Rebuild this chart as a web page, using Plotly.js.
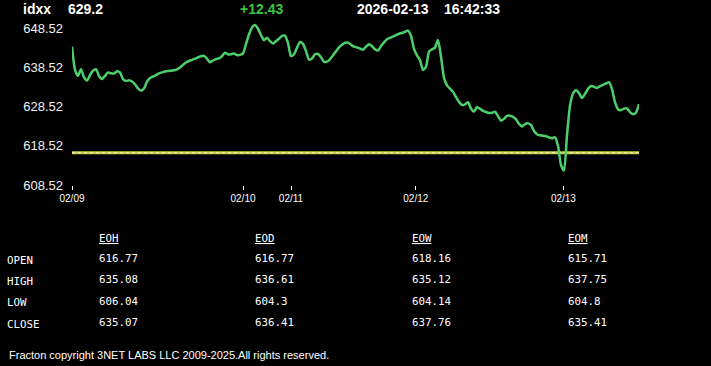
<!DOCTYPE html>
<html><head><meta charset="utf-8">
<script src="https://cdn.plot.ly/plotly-3.0.1.min.js"></script>
<style>html,body{margin:0;padding:0;background:#000;overflow:hidden}#chart{width:711px;height:366px}</style>
</head><body><div id="chart"></div>
<script>
// ---- header ----
const symbol = 'idxx';
const lastPrice = '629.2';
const changeText = '+12.43';
const dateText = '2026-02-13';
const timeText = '16:42:33';

// ---- price series (one sample per step) ----
const prices = [
643.83,637.93,636.40,638.06,636.02,635.20,636.53,637.70,638.06,636.35,
635.58,636.37,637.24,637.04,636.96,637.55,637.24,635.56,635.10,635.25,
634.94,634.23,633.16,632.59,633.16,634.89,635.81,636.22,636.58,636.99,
637.27,637.47,637.60,637.70,637.80,638.06,638.54,639.18,639.79,640.18,
640.46,640.76,641.10,641.40,641.48,640.76,639.85,640.30,640.66,640.82,
641.43,642.30,641.86,641.91,642.07,641.68,641.73,642.12,644.49,646.94,
648.73,649.37,648.40,646.79,645.49,646.13,645.23,644.64,645.26,645.87,
646.56,646.66,644.77,641.40,641.91,643.55,645.03,644.54,642.70,640.53,
640.82,641.89,641.96,641.15,639.97,640.00,640.61,641.63,642.63,643.67,
644.34,644.82,644.87,644.34,643.83,643.65,643.34,643.06,643.83,644.47,
643.96,643.19,642.83,643.98,644.93,645.74,646.07,646.41,646.79,647.12,
647.33,647.61,647.94,646.59,643.29,641.63,640.38,637.88,638.72,642.55,
643.16,643.60,645.54,641.27,635.86,633.97,633.11,632.29,630.96,629.74,
628.94,629.12,629.63,628.05,627.26,628.41,627.97,627.44,627.16,626.90,
626.98,627.23,626.08,624.94,625.40,626.16,626.21,625.93,625.32,624.12,
623.46,624.09,624.25,623.84,622.31,621.49,621.21,621.11,620.95,620.67,
620.47,620.70,618.53,613.63,612.22,621.26,628.74,631.88,632.70,631.98,
630.73,631.78,633.11,633.79,633.62,633.26,633.74,634.10,634.43,634.76,
633.00,629.66,627.85,627.62,628.02,628.10,627.11,626.57,627.00,629.20
];
const tickPositions = [0, 57, 73, 114.6, 163.8];
const tickLabels = ['02/09', '02/10', '02/11', '02/12', '02/13'];
const yTickValues = [608.52, 618.52, 628.52, 638.52, 648.52];

// ---- table ----
const colLabels = ['EOH', 'EOD', 'EOW', 'EOM'];
const rowLabels = ['OPEN', 'HIGH', 'LOW', 'CLOSE'];
const openVals  = [616.77, 616.77, 618.16, 615.71];
const highVals  = [635.08, 636.61, 635.12, 637.75];
const lowVals   = [606.04, 604.3, 604.14, 604.8];
const closeVals = [635.07, 636.41, 637.76, 635.41];
const footerText = 'Fracton copyright 3NET LABS LLC 2009-2025.All rights reserved.';

const refLevel = openVals[1];
const idx = prices.map((_, i) => i);
const lastIdx = prices.length - 1;

// page pixel -> paper coords (plot area: x 72..639, y 20..185)
const W = 711, H = 366, L = 72, R = 72, T = 20, B = 181;
const pw = W - L - R, ph = H - T - B;
const px = x => (x - L) / pw;
const py = y => (H - B - y) / ph;

const sans = 'Liberation Sans, Arial, sans-serif';
const mono = 'DejaVu Sans Mono, Consolas, monospace';

const traces = [
  {x: [0, lastIdx], y: [refLevel, refLevel], mode: 'lines',
   line: {color: '#c9d34c', width: 3}, hoverinfo: 'skip'},
  {x: [0, lastIdx], y: [refLevel, refLevel], mode: 'lines',
   line: {color: '#f2f2b8', width: 1, dash: 'dot'}, hoverinfo: 'skip'},
  {x: idx, y: prices, mode: 'lines',
   line: {color: '#4ccf6a', width: 2.5, shape: 'spline', smoothing: 0.6}, hoverinfo: 'skip'}
];

const ann = [];
function addText(text, x, y, font, extra) {
  ann.push(Object.assign({text: text, xref: 'paper', yref: 'paper', x: px(x), y: py(y),
    xanchor: 'left', yanchor: 'middle', showarrow: false, font: font,
    borderpad: 0, borderwidth: 0}, extra || {}));
}
const hdrFont = {family: sans, size: 14, color: '#ffffff', weight: 'bold'};
addText('<b>' + symbol + '</b>', 23, 9, hdrFont);
addText('<b>' + lastPrice + '</b>', 68, 9, hdrFont);
addText('<b>' + changeText + '</b>', 240, 9, Object.assign({}, hdrFont, {color: '#3ec43e'}));
addText('<b>' + dateText + '</b>', 357, 9, hdrFont);
addText('<b>' + timeText + '</b>', 443.5, 9, hdrFont);

const tblFont = {family: mono, size: 10.8, color: '#ffffff'};
const colX = [99.3, 255.3, 411.5, 567.5];
const rowY = [259.5, 280.5, 302, 323.5];
const rows = [openVals, highVals, lowVals, closeVals];
colLabels.forEach((c, j) => addText('<span style="text-decoration:underline">' + c + '</span>', colX[j], 238.3, tblFont));
rowLabels.forEach((r, i) => {
  addText(r, 6.7, rowY[i] + 0.5, tblFont);
  rows[i].forEach((v, j) => addText(String(v), colX[j], rowY[i] - 1, tblFont));
});
addText(footerText, 9, 355, {family: sans, size: 11, color: '#ffffff'});

const layout = {
  width: W, height: H,
  margin: {l: L, r: R, t: T, b: B, pad: 0},
  paper_bgcolor: '#000000', plot_bgcolor: '#000000',
  showlegend: false,
  xaxis: {range: [0, lastIdx], showgrid: false, zeroline: false, showline: false,
    ticks: 'outside', ticklen: 4, tickwidth: 1, tickcolor: '#ffffff',
    tickvals: tickPositions, ticktext: tickLabels,
    tickfont: {family: sans, size: 10, color: '#ffffff'}, fixedrange: true},
  yaxis: {range: [608.52, 650.64], showgrid: false, zeroline: false, showline: false,
    ticks: '', tickvals: yTickValues, ticktext: yTickValues.map(v => v.toFixed(2)),
    tickfont: {family: sans, size: 13, color: '#f0f0f0'}, ticklabelstandoff: 8, fixedrange: true},
  annotations: ann,
  hovermode: false
};
Plotly.newPlot('chart', traces, layout, {displayModeBar: false, staticPlot: true});
</script>
</body></html>
